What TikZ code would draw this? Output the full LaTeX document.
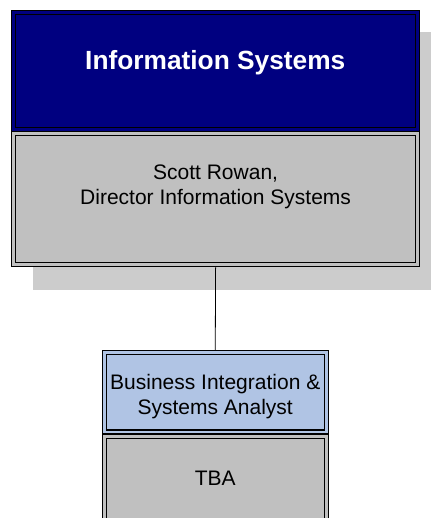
\documentclass[tikz,border=0pt]{standalone}
\usepackage{fontspec}
\setmainfont{Liberation Sans}

\definecolor{unitnavy}{HTML}{000080}
\definecolor{postgray}{HTML}{C0C0C0}
\definecolor{postblue}{HTML}{B0C4E4}
\definecolor{shadowgray}{HTML}{CCCCCC}

\begin{document}
\begin{tikzpicture}[x=1pt,y=-1pt,
    box/.style={draw=black, line width=1.2pt, double distance=3pt, outer sep=2.7pt},
    label text/.style={anchor=base, align=center, font=\fontsize{21}{25}\selectfont}]
            % page
            \useasboundingbox (0,0) rectangle (431,518);

            % shadow behind the top unit
            \fill[shadowgray] (33,32) rectangle (431,290);

            % top unit
            \node[box, double=unitnavy, fill=unitnavy, minimum width=404pt, minimum height=116.7pt] (unit) at (215.6,71.15) {};
            \node[box, double=postgray, fill=postgray, minimum width=404pt, minimum height=131.2pt] (director) at (215.6,199.1) {};

            % bottom post
            \node[box, double=postblue, fill=postblue, minimum width=222pt, minimum height=79.5pt] (analyst) at (215.25,392.25) {};
            \node[box, double=postgray, fill=postgray, minimum width=222pt, minimum height=124pt] (holder) at (215.25,498) {};

            % connector
            \draw[line width=0.8pt] (director.south) -- (analyst.north);

            % texts (base is the last line)
            \node[anchor=base, text=white, font=\bfseries\fontsize{26.3}{30}\selectfont] (unitname) at (215.3,69.8) {Information Systems};
            \node[label text] (directorname) at (215.6,205) {Scott Rowan,\\Director Information Systems};
            \node[label text] (analystname) at (215.25,414.5) {Business Integration \&\\Systems Analyst};
            \node[label text] (holdername) at (215.25,485) {TBA};
\end{tikzpicture}
\end{document}
